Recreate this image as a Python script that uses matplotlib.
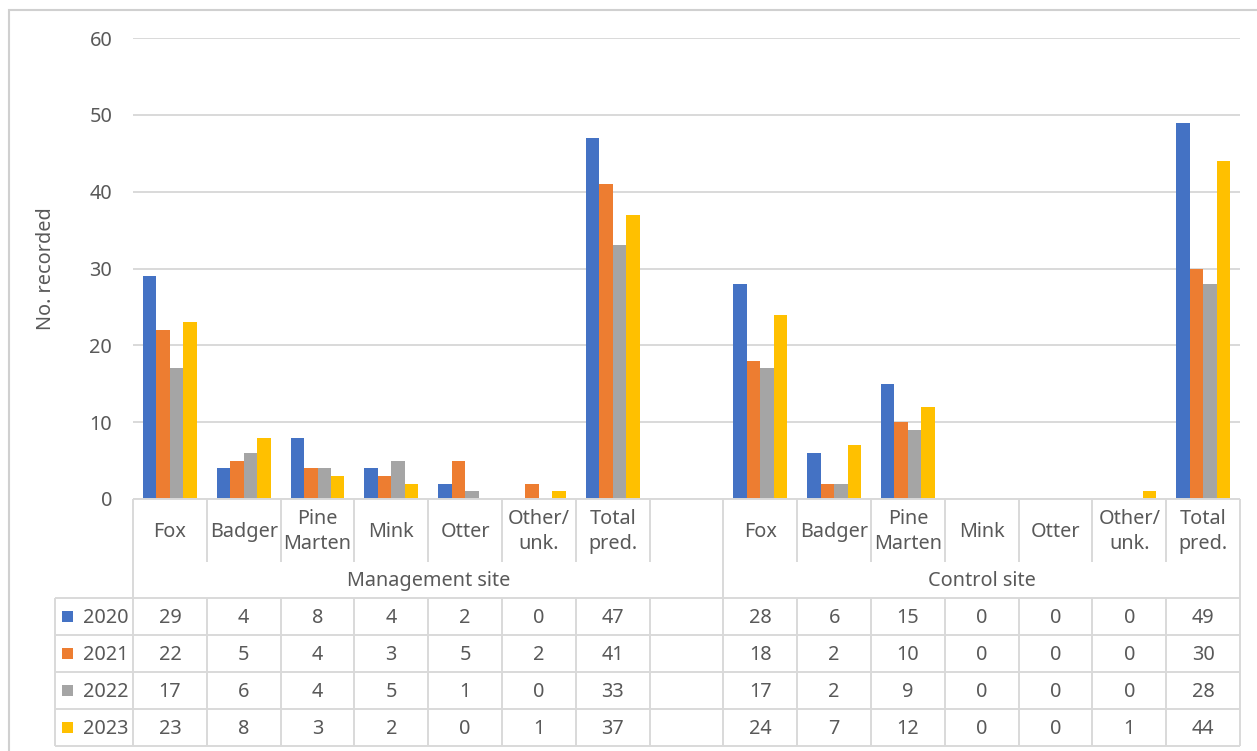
import matplotlib
matplotlib.use("Agg")
import matplotlib.pyplot as plt
from matplotlib.patches import Rectangle

# ---------------- data ----------------
categories = ["Fox", "Badger", "Pine\nMarten", "Mink", "Otter", "Other/\nunk.", "Total\npred."]
groups = ["Management site", "Control site"]
years = ["2020", "2021", "2022", "2023"]

mgmt_2020 = [29, 4, 8, 4, 2, 0, 47]
mgmt_2021 = [22, 5, 4, 3, 5, 2, 41]
mgmt_2022 = [17, 6, 4, 5, 1, 0, 33]
mgmt_2023 = [23, 8, 3, 2, 0, 1, 37]

ctrl_2020 = [28, 6, 15, 0, 0, 0, 49]
ctrl_2021 = [18, 2, 10, 0, 0, 0, 30]
ctrl_2022 = [17, 2, 9, 0, 0, 0, 28]
ctrl_2023 = [24, 7, 12, 0, 0, 1, 44]

yticks = [0, 10, 20, 30, 40, 50, 60]
ylabel = "No. recorded"

colors = ["#4472C4", "#ED7D31", "#A5A5A5", "#FFC000"]
text_col = "#595959"
grid_col = "#D9D9D9"
FONT = ["Noto Sans", "DejaVu Sans"]
plt.rcParams["font.family"] = FONT
FS = 14.3

# slots: 7 management + 1 blank (part of management group) + 7 control
mgmt = [mgmt_2020, mgmt_2021, mgmt_2022, mgmt_2023]
ctrl = [ctrl_2020, ctrl_2021, ctrl_2022, ctrl_2023]
slot_labels = categories + [""] + categories
series = [m + [None] + c for m, c in zip(mgmt, ctrl)]
nslots = len(slot_labels)
group_spans = [(0, len(categories) + 1), (len(categories) + 1, nslots)]

W, H = 1257, 751
fig = plt.figure(figsize=(W / 100, H / 100), dpi=100)

def fx(px):
    return px / W

def fy(py):
    return (H - py) / H

x0, x1 = 133, 1240
y_top, y_zero = 38, 499
ax = fig.add_axes([fx(x0), fy(y_zero), fx(x1) - fx(x0), fy(y_top) - fy(y_zero)])
ax.set_xlim(0, nslots)
ax.set_ylim(0, 60)
for s in ax.spines.values():
    s.set_visible(False)
ax.set_xticks([])
ax.set_yticks(yticks)
ax.tick_params(axis="y", length=0, pad=15, labelsize=FS, labelcolor=text_col)
ax.yaxis.grid(True, color=grid_col, linewidth=1.4)
ax.set_axisbelow(True)
ax.set_ylabel(ylabel, fontsize=FS, color=text_col, labelpad=24)

group_w = 0.73
bw = group_w / 4
for k, vals in enumerate(series):
    xs = [i + 0.5 - group_w / 2 + bw * (k + 0.5) for i, v in enumerate(vals) if v is not None]
    hs = [v for v in vals if v is not None]
    ax.bar(xs, hs, width=bw, color=colors[k], linewidth=0, zorder=3)

# ---------------- data table ----------------
tab_bottom = 751
tax = fig.add_axes([fx(x0), 0, fx(x1) - fx(x0), fy(y_zero)])
tax.set_xlim(0, nslots)
tax.set_ylim(tab_bottom, y_zero)
tax.axis("off")

slot_px = (x1 - x0) / nslots
leg_left = -(x0 - 55) / slot_px
lc = grid_col
lw = 1.4
cat_bot = 562
grp_bot = 598
rows = [598, 635, 672, 709, 746]

def hline(y, xa, xb):
    tax.plot([xa, xb], [y, y], color=lc, lw=lw, clip_on=False, solid_capstyle="butt")

def vline(x, ya, yb):
    tax.plot([x, x], [ya, yb], color=lc, lw=lw, clip_on=False, solid_capstyle="butt")

hline(y_zero, 0, nslots)
for r in rows:
    hline(r, leg_left, nslots)
vline(0, y_zero, rows[-1])
vline(leg_left, rows[0], rows[-1])
vline(nslots, y_zero, rows[-1])
for b in range(1, nslots):
    is_group_edge = any(b == g[0] for g in group_spans[1:])
    if is_group_edge:
        vline(b, y_zero, rows[-1])
    else:
        vline(b, y_zero, cat_bot)
        vline(b, rows[0], rows[-1])

# category labels
for i, lab in enumerate(slot_labels):
    if lab:
        tax.text(i + 0.5, (y_zero + cat_bot) / 2 + 1, lab, ha="center", va="center",
                 fontsize=FS, color=text_col, linespacing=1.3, clip_on=False)
# group labels
for g, (a, b) in zip(groups, group_spans):
    tax.text((a + b) / 2, (cat_bot + grp_bot) / 2 + 1, g, ha="center", va="center",
             fontsize=FS, color=text_col)
# data rows
for k, (yr, vals) in enumerate(zip(years, series)):
    yc = (rows[k] + rows[k + 1]) / 2
    sq = 11 / slot_px
    tax.add_patch(Rectangle((leg_left + 7 / slot_px, yc - 5.5), sq, 11,
                            facecolor=colors[k], edgecolor="none", clip_on=False))
    tax.text(-5 / slot_px, yc + 1, yr, ha="right", va="center", fontsize=FS,
             color=text_col, clip_on=False)
    for i, v in enumerate(vals):
        if v is not None:
            tax.text(i + 0.5, yc + 1, str(v), ha="center", va="center",
                     fontsize=FS, color=text_col)

# outer chart border
fig.add_artist(Rectangle((fx(9), fy(H + 5)), fx(W + 5) - fx(9), fy(10) - fy(H + 5),
                         transform=fig.transFigure, facecolor="none",
                         edgecolor="#D0D0D0", lw=1.5))

fig.savefig("out.png", dpi=100)
